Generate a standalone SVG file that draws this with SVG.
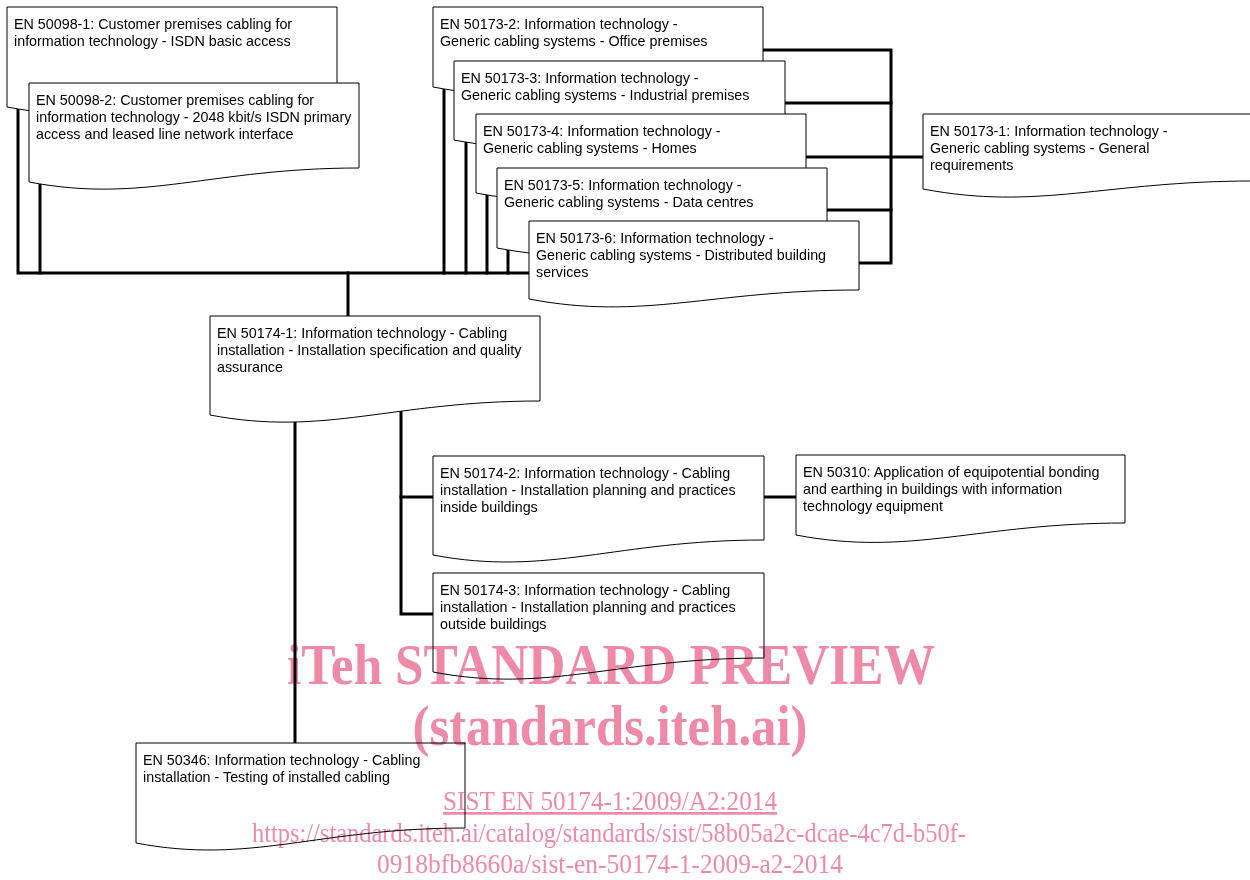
<svg xmlns="http://www.w3.org/2000/svg" width="1250" height="880" viewBox="0 0 1250 880">
<style>
  .box { fill: #ffffff; stroke: #000000; stroke-width: 1; }
  .lbl { font-family: "Liberation Sans", Arial, sans-serif; font-size: 14.3px; fill: #000000; }
  .conn { fill: none; stroke: #000000; stroke-width: 3; stroke-linejoin: miter; stroke-linecap: square; }
  .wm { font-family: "Liberation Serif", "Times New Roman", serif; fill: #ee8aa8; text-anchor: middle; }
  .wmb { font-weight: bold; font-size: 56px; }
  .wmr { font-size: 27px; }
</style>
<rect x="0" y="0" width="1250" height="880" fill="#ffffff"/>

<g id="connectors">
  <path class="conn" d="M18,100 V273 H529"/>
  <path class="conn" d="M40,175 V273"/>
  <path class="conn" d="M444,80 V273"/>
  <path class="conn" d="M466,133 V273"/>
  <path class="conn" d="M487,186 V273"/>
  <path class="conn" d="M508,241 V273"/>
  <path class="conn" d="M348,273 V318"/>
  <path class="conn" d="M760,50 H891 V263 H856"/>
  <path class="conn" d="M782,103 H891"/>
  <path class="conn" d="M803,157 H925"/>
  <path class="conn" d="M824,210 H891"/>
  <path class="conn" d="M295,415 V745"/>
  <path class="conn" d="M401,405 V614 H435"/>
  <path class="conn" d="M401,497 H435"/>
  <path class="conn" d="M762,497 H798"/>
</g>

<g id="n50098-1">
  <path class="box" d="M7,7 H337 V92 C188.5,92 122.5,129 7,107 Z"/>
  <text class="lbl" x="14" y="29">EN 50098-1: Customer premises cabling for</text>
  <text class="lbl" x="14" y="46">information technology - ISDN basic access</text>
</g>
<g id="n50098-2">
  <path class="box" d="M29,83 H359 V168 C210.5,168 144.5,204 29,182 Z"/>
  <text class="lbl" x="36" y="104.5">EN 50098-2: Customer premises cabling for</text>
  <text class="lbl" x="36" y="121.5">information technology - 2048 kbit/s ISDN primary</text>
  <text class="lbl" x="36" y="138.5">access and leased line network interface</text>
</g>

<g id="n50173-2">
  <path class="box" d="M433,7 H763 V78 C614.5,78 548.5,109 433,87 Z"/>
  <text class="lbl" x="440" y="28.5">EN 50173-2: Information technology -</text>
  <text class="lbl" x="440" y="45.5">Generic cabling systems - Office premises</text>
</g>
<g id="n50173-3">
  <path class="box" d="M454,61 H785 V131 C636,131 569.9,162 454,140 Z"/>
  <text class="lbl" x="461" y="82.5">EN 50173-3: Information technology -</text>
  <text class="lbl" x="461" y="99.5">Generic cabling systems - Industrial premises</text>
</g>
<g id="n50173-4">
  <path class="box" d="M476,114 H806 V184 C657.5,184 591.5,215 476,193 Z"/>
  <text class="lbl" x="483" y="135.5">EN 50173-4: Information technology -</text>
  <text class="lbl" x="483" y="152.5">Generic cabling systems - Homes</text>
</g>
<g id="n50173-5">
  <path class="box" d="M497,168 H827 V239 C678.5,239 612.5,270 497,248 Z"/>
  <text class="lbl" x="504" y="189.5">EN 50173-5: Information technology -</text>
  <text class="lbl" x="504" y="206.5">Generic cabling systems - Data centres</text>
</g>
<g id="n50173-6">
  <path class="box" d="M529,221 H859 V290 C710.5,290 644.5,321 529,299 Z"/>
  <text class="lbl" x="536" y="242.5">EN 50173-6: Information technology -</text>
  <text class="lbl" x="536" y="259.5">Generic cabling systems - Distributed building</text>
  <text class="lbl" x="536" y="276.5">services</text>
</g>
<g id="n50173-1">
  <path class="box" d="M923,114 H1253 V181 C1104.5,181 1038.5,211 923,189 Z"/>
  <text class="lbl" x="930" y="135.5">EN 50173-1: Information technology -</text>
  <text class="lbl" x="930" y="152.5">Generic cabling systems - General</text>
  <text class="lbl" x="930" y="169.5">requirements</text>
</g>

<g id="n50174-1">
  <path class="box" d="M210,316 H540 V401 C391.5,401 325.5,437 210,415 Z"/>
  <text class="lbl" x="217" y="338">EN 50174-1: Information technology - Cabling</text>
  <text class="lbl" x="217" y="355">installation - Installation specification and quality</text>
  <text class="lbl" x="217" y="372">assurance</text>
</g>
<g id="n50174-2">
  <path class="box" d="M433,456 H764 V540 C615,540 548.9,577 433,555 Z"/>
  <text class="lbl" x="440" y="477.5">EN 50174-2: Information technology - Cabling</text>
  <text class="lbl" x="440" y="494.5">installation - Installation planning and practices</text>
  <text class="lbl" x="440" y="511.5">inside buildings</text>
</g>
<g id="n50310">
  <path class="box" d="M796,455 H1125 V523 C977,523 911.2,557 796,535 Z"/>
  <text class="lbl" x="803" y="476.5">EN 50310: Application of equipotential bonding</text>
  <text class="lbl" x="803" y="493.5">and earthing in buildings with information</text>
  <text class="lbl" x="803" y="510.5">technology equipment</text>
</g>
<g id="n50174-3">
  <path class="box" d="M433,573 H764 V658 C615,658 548.9,694 433,672 Z"/>
  <text class="lbl" x="440" y="594.5">EN 50174-3: Information technology - Cabling</text>
  <text class="lbl" x="440" y="611.5">installation - Installation planning and practices</text>
  <text class="lbl" x="440" y="628.5">outside buildings</text>
</g>
<g id="n50346">
  <path class="box" d="M136,743 H465 V828 C317,828 251.2,865 136,843 Z"/>
  <text class="lbl" x="143" y="764.5">EN 50346: Information technology - Cabling</text>
  <text class="lbl" x="143" y="781.5">installation - Testing of installed cabling</text>
</g>

<g id="watermark" style="mix-blend-mode: multiply">
  <text class="wm wmb" x="611" y="684" textLength="648" lengthAdjust="spacingAndGlyphs">iTeh STANDARD PREVIEW</text>
  <text class="wm wmb" x="610" y="745" textLength="395" lengthAdjust="spacingAndGlyphs">(standards.iteh.ai)</text>
  <text class="wm wmr" x="610" y="810" textLength="334" lengthAdjust="spacingAndGlyphs" text-decoration="underline">SIST EN 50174-1:2009/A2:2014</text>
  <text class="wm wmr" x="609" y="842" textLength="714" lengthAdjust="spacingAndGlyphs">https://standards.iteh.ai/catalog/standards/sist/58b05a2c-dcae-4c7d-b50f-</text>
  <text class="wm wmr" x="610" y="873" textLength="466" lengthAdjust="spacingAndGlyphs">0918bfb8660a/sist-en-50174-1-2009-a2-2014</text>
</g>
</svg>
